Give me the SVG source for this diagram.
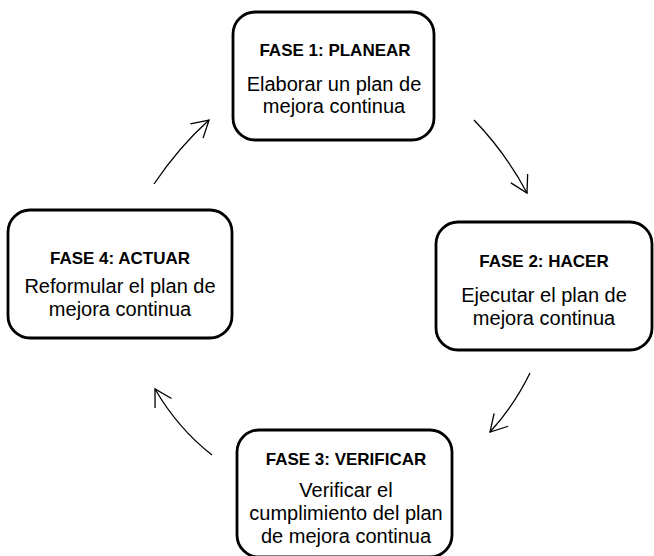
<svg xmlns="http://www.w3.org/2000/svg" width="654" height="556" viewBox="0 0 654 556">
  <style>
    .box { fill: #ffffff; stroke: #000000; stroke-width: 2.8; }
    .title { font-family: "Liberation Sans", Arial, sans-serif; font-size: 17px; font-weight: bold; fill: #000000; text-anchor: middle; }
    .body { font-family: "Liberation Sans", Arial, sans-serif; font-size: 20px; fill: #000000; text-anchor: middle; }
    .flow { fill: none; stroke: #000000; stroke-width: 1.3; marker-end: url(#head); }
  </style>
  <defs>
    <marker id="head" markerUnits="userSpaceOnUse" markerWidth="40" markerHeight="40" refX="0" refY="0" orient="auto" overflow="visible">
      <path d="M -16.5,-9.5 L 0,0 L -16.5,9.5" fill="none" stroke="#000000" stroke-width="1.3" stroke-linejoin="miter"/>
    </marker>
  </defs>
  <rect width="654" height="556" fill="#ffffff"/>

  <!-- Phase 1 -->
  <g id="fase1">
    <rect class="box" x="233" y="12" width="201" height="128" rx="22" ry="22"/>
    <text class="title" x="335" y="56">FASE 1: PLANEAR</text>
    <text class="body" x="334" y="91">Elaborar un plan de</text>
    <text class="body" x="334" y="113">mejora continua</text>
  </g>

  <!-- Phase 2 -->
  <g id="fase2">
    <rect class="box" x="436" y="222" width="216" height="128" rx="22" ry="22"/>
    <text class="title" x="544" y="267">FASE 2: HACER</text>
    <text class="body" x="544" y="302">Ejecutar el plan de</text>
    <text class="body" x="544" y="325">mejora continua</text>
  </g>

  <!-- Phase 3 -->
  <g id="fase3">
    <rect class="box" x="237" y="430" width="215" height="127" rx="22" ry="22"/>
    <text class="title" x="346" y="465">FASE 3: VERIFICAR</text>
    <text class="body" x="346" y="497">Verificar el</text>
    <text class="body" x="346" y="520">cumplimiento del plan</text>
    <text class="body" x="346" y="543">de mejora continua</text>
  </g>

  <!-- Phase 4 -->
  <g id="fase4">
    <rect class="box" x="8" y="210" width="224" height="128" rx="22" ry="22"/>
    <text class="title" x="120" y="264">FASE 4: ACTUAR</text>
    <text class="body" x="120" y="293">Reformular el plan de</text>
    <text class="body" x="120" y="316">mejora continua</text>
  </g>

  <!-- Cycle arrows -->
  <g id="connectors">
    <path class="flow" d="M 154,184 Q 178.8,147.2 209,120"/>
    <path class="flow" d="M 474,120 Q 505.6,152.7 527,193"/>
    <path class="flow" d="M 530,373 Q 514,405.8 490,432"/>
    <path class="flow" d="M 212,455 Q 177.7,428.2 155,389"/>
  </g>
</svg>
